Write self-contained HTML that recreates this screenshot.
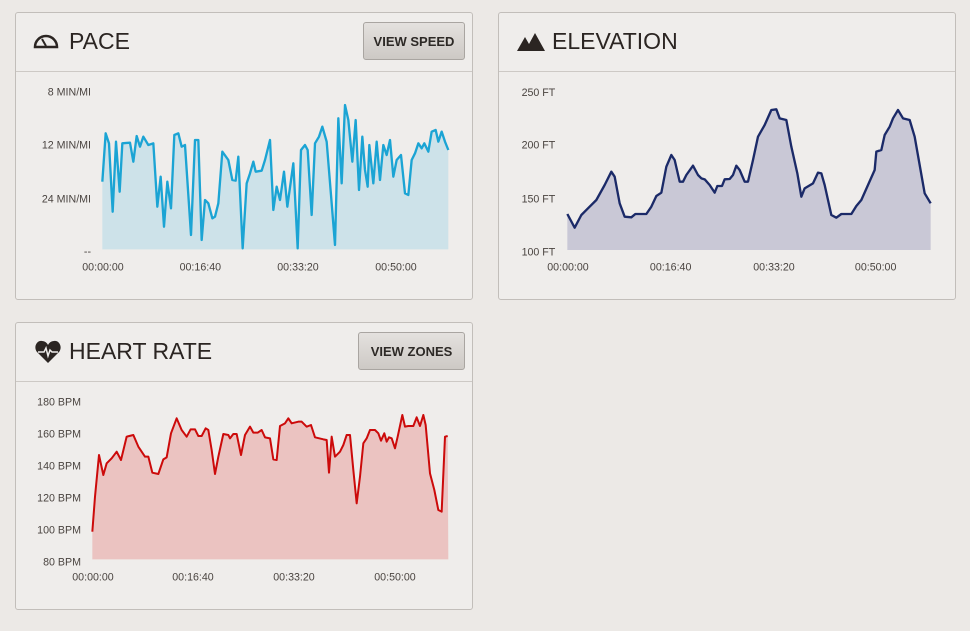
<!DOCTYPE html>
<html><head><meta charset="utf-8"><style>
body{margin:0;width:970px;height:631px;background:#ece9e6;font-family:"Liberation Sans",sans-serif;position:relative;overflow:hidden}
.p{position:absolute;background:#efedeb;border:1px solid #c2beba;border-radius:3px;box-sizing:border-box}
.h{position:absolute;left:0;right:0;top:0;height:58px;border-bottom:1px solid #cdc9c5}
.t{position:absolute;left:53px;top:15px;font-size:23px;color:#2b2522}
.b{position:absolute;top:9px;height:38px;border:1px solid #a9a5a1;border-radius:3px;background:linear-gradient(#e4e1de,#cdc9c5);font-size:13px;font-weight:bold;color:#2d2926;text-align:center;line-height:38px;box-sizing:border-box}
svg{position:absolute}
svg text{font-family:"Liberation Sans",sans-serif;font-size:32px;fill:#4a4440}
</style></head><body>
<div class="p" style="left:15px;top:12px;width:458px;height:288px"><div class="h"></div><div class="t">PACE</div><div class="b" style="left:347px;width:102px">VIEW SPEED</div>
<svg style="left:17px;top:20px" width="26" height="16" viewBox="0 0 26 16"><path d="M2 14 A11 11 0 0 1 24 14 Z" fill="none" stroke="#2b2522" stroke-width="2.5"/><line x1="13" y1="13" x2="9" y2="6" stroke="#2b2522" stroke-width="2"/></svg></div>
<div class="p" style="left:498px;top:12px;width:458px;height:288px"><div class="h"></div><div class="t">ELEVATION</div>
<svg style="left:18px;top:20px" width="28" height="18" viewBox="0 0 28 18"><path d="M0 18 L8 4 L12 11 L18 0 L28 18Z" fill="#2b2522"/></svg></div>
<div class="p" style="left:15px;top:322px;width:458px;height:288px"><div class="h"></div><div class="t">HEART RATE</div><div class="b" style="left:342px;width:107px">VIEW ZONES</div>
<svg style="left:19px;top:17px" width="26" height="24" viewBox="0 0 26 24"><path d="M13 23 L2 12 C-2 7 2 0 7 1 C10 1 12 3 13 5 C14 3 16 1 19 1 C24 0 28 7 24 12Z" fill="#2b2522"/><path d="M3 12 L9 12 L11 8 L13 16 L15 10 L17 12 L23 12" fill="none" stroke="#efedeb" stroke-width="1.5"/></svg></div>

<svg style="left:15px;top:10px" width="460" height="290" viewBox="0 0 1380 870">
<text x="228" y="256" text-anchor="end">8 MIN/MI</text><text x="228" y="416" text-anchor="end">12 MIN/MI</text><text x="228" y="578" text-anchor="end">24 MIN/MI</text><text x="228" y="735" text-anchor="end">--</text>
<text x="264" y="782" text-anchor="middle">00:00:00</text><text x="556" y="782" text-anchor="middle">00:16:40</text><text x="849" y="782" text-anchor="middle">00:33:20</text><text x="1143" y="782" text-anchor="middle">00:50:00</text>
<path fill="#cde2e9" d="M262 718 L262,515 272,370 282,400 293,605 303,395 314,545 322,400 345,398 355,455 365,378 375,410 385,380 400,405 415,400 427,590 437,500 447,650 457,515 468,595 478,375 490,370 500,410 510,405 528,675 540,390 550,390 560,690 570,570 580,580 592,625 600,620 610,580 622,425 640,450 652,510 662,512 670,440 683,715 695,520 705,490 715,455 722,485 740,482 750,450 765,390 775,600 785,530 795,570 807,485 817,590 835,460 848,715 858,420 870,405 878,420 890,615 900,400 912,380 922,350 935,395 948,555 960,705 970,325 980,520 990,285 1000,330 1012,455 1022,330 1032,540 1042,380 1050,480 1058,530 1063,405 1075,520 1085,395 1095,510 1105,405 1115,435 1125,390 1135,500 1145,450 1158,435 1170,550 1180,555 1190,450 1200,430 1210,400 1220,415 1228,400 1240,425 1250,365 1262,360 1270,395 1280,365 1290,395 1300,420 L1300 718Z"/>
<polyline fill="none" stroke="#1ba4d4" stroke-width="7" stroke-linejoin="round" points="262,515 272,370 282,400 293,605 303,395 314,545 322,400 345,398 355,455 365,378 375,410 385,380 400,405 415,400 427,590 437,500 447,650 457,515 468,595 478,375 490,370 500,410 510,405 528,675 540,390 550,390 560,690 570,570 580,580 592,625 600,620 610,580 622,425 640,450 652,510 662,512 670,440 683,715 695,520 705,490 715,455 722,485 740,482 750,450 765,390 775,600 785,530 795,570 807,485 817,590 835,460 848,715 858,420 870,405 878,420 890,615 900,400 912,380 922,350 935,395 948,555 960,705 970,325 980,520 990,285 1000,330 1012,455 1022,330 1032,540 1042,380 1050,480 1058,530 1063,405 1075,520 1085,395 1095,510 1105,405 1115,435 1125,390 1135,500 1145,450 1158,435 1170,550 1180,555 1190,450 1200,430 1210,400 1220,415 1228,400 1240,425 1250,365 1262,360 1270,395 1280,365 1290,395 1300,420"/>
</svg>

<svg style="left:15px;top:320px" width="460" height="290" viewBox="0 0 1380 870">
<text x="198" y="256" text-anchor="end">180 BPM</text><text x="198" y="352" text-anchor="end">160 BPM</text><text x="198" y="448" text-anchor="end">140 BPM</text><text x="198" y="544" text-anchor="end">120 BPM</text><text x="198" y="640" text-anchor="end">100 BPM</text><text x="198" y="736" text-anchor="end">80 BPM</text>
<text x="234" y="782" text-anchor="middle">00:00:00</text><text x="534" y="782" text-anchor="middle">00:16:40</text><text x="837" y="782" text-anchor="middle">00:33:20</text><text x="1140" y="782" text-anchor="middle">00:50:00</text>
<path fill="#ebc3c1" d="M232 718 L232,635 240,530 252,405 265,465 275,430 290,415 305,395 318,420 335,350 355,345 370,380 390,410 400,410 412,458 430,462 445,418 455,412 468,340 485,295 500,330 515,350 527,328 540,328 550,348 560,348 572,325 580,330 590,390 600,462 610,410 625,342 640,345 645,355 655,342 665,342 678,405 690,345 705,320 715,338 728,338 740,330 750,352 765,355 775,418 785,420 795,318 810,310 820,295 830,310 850,305 860,305 875,320 888,315 900,352 925,358 935,360 942,458 950,350 960,410 975,395 985,375 995,345 1005,345 1015,450 1025,550 1035,470 1045,370 1055,355 1065,330 1080,330 1090,340 1098,362 1108,340 1115,365 1122,352 1130,355 1140,385 1148,350 1162,285 1170,320 1180,318 1195,318 1205,292 1215,318 1225,285 1232,315 1245,460 1258,510 1270,570 1280,575 1290,350 1298,348 L1300 718Z"/>
<polyline fill="none" stroke="#cc0a0a" stroke-width="6" stroke-linejoin="round" points="232,635 240,530 252,405 265,465 275,430 290,415 305,395 318,420 335,350 355,345 370,380 390,410 400,410 412,458 430,462 445,418 455,412 468,340 485,295 500,330 515,350 527,328 540,328 550,348 560,348 572,325 580,330 590,390 600,462 610,410 625,342 640,345 645,355 655,342 665,342 678,405 690,345 705,320 715,338 728,338 740,330 750,352 765,355 775,418 785,420 795,318 810,310 820,295 830,310 850,305 860,305 875,320 888,315 900,352 925,358 935,360 942,458 950,350 960,410 975,395 985,375 995,345 1005,345 1015,450 1025,550 1035,470 1045,370 1055,355 1065,330 1080,330 1090,340 1098,362 1108,340 1115,365 1122,352 1130,355 1140,385 1148,350 1162,285 1170,320 1180,318 1195,318 1205,292 1215,318 1225,285 1232,315 1245,460 1258,510 1270,570 1280,575 1290,350 1298,348"/>
</svg>

<svg style="left:498px;top:70px" width="460" height="210" viewBox="0 0 1380 630">
<text x="172" y="78" text-anchor="end">250 FT</text><text x="172" y="236" text-anchor="end">200 FT</text><text x="172" y="398" text-anchor="end">150 FT</text><text x="172" y="557" text-anchor="end">100 FT</text>
<text x="210" y="602" text-anchor="middle">00:00:00</text><text x="518" y="602" text-anchor="middle">00:16:40</text><text x="828" y="602" text-anchor="middle">00:33:20</text><text x="1133" y="602" text-anchor="middle">00:50:00</text>
<path fill="#c9c8d6" d="M208 540 L208,432 230,473 250,435 270,415 295,390 320,345 340,305 350,320 365,400 380,440 400,442 412,432 445,432 460,410 475,378 490,368 505,290 520,255 530,270 545,335 555,335 565,315 585,287 600,315 610,325 620,328 635,345 650,368 658,348 672,348 680,328 695,327 705,315 715,287 725,300 740,335 750,335 765,270 780,200 800,165 820,120 835,118 845,145 865,150 880,230 898,310 910,380 920,355 945,340 960,308 970,310 980,345 1000,435 1015,443 1030,432 1060,432 1075,408 1090,390 1110,345 1130,300 1135,245 1150,240 1160,195 1175,170 1185,145 1200,120 1215,145 1235,150 1250,200 1265,285 1280,370 1298,400 L1298 540Z"/>
<polyline fill="none" stroke="#1b2a68" stroke-width="7" stroke-linejoin="round" points="208,432 230,473 250,435 270,415 295,390 320,345 340,305 350,320 365,400 380,440 400,442 412,432 445,432 460,410 475,378 490,368 505,290 520,255 530,270 545,335 555,335 565,315 585,287 600,315 610,325 620,328 635,345 650,368 658,348 672,348 680,328 695,327 705,315 715,287 725,300 740,335 750,335 765,270 780,200 800,165 820,120 835,118 845,145 865,150 880,230 898,310 910,380 920,355 945,340 960,308 970,310 980,345 1000,435 1015,443 1030,432 1060,432 1075,408 1090,390 1110,345 1130,300 1135,245 1150,240 1160,195 1175,170 1185,145 1200,120 1215,145 1235,150 1250,200 1265,285 1280,370 1298,400"/>
</svg>
</body></html>
